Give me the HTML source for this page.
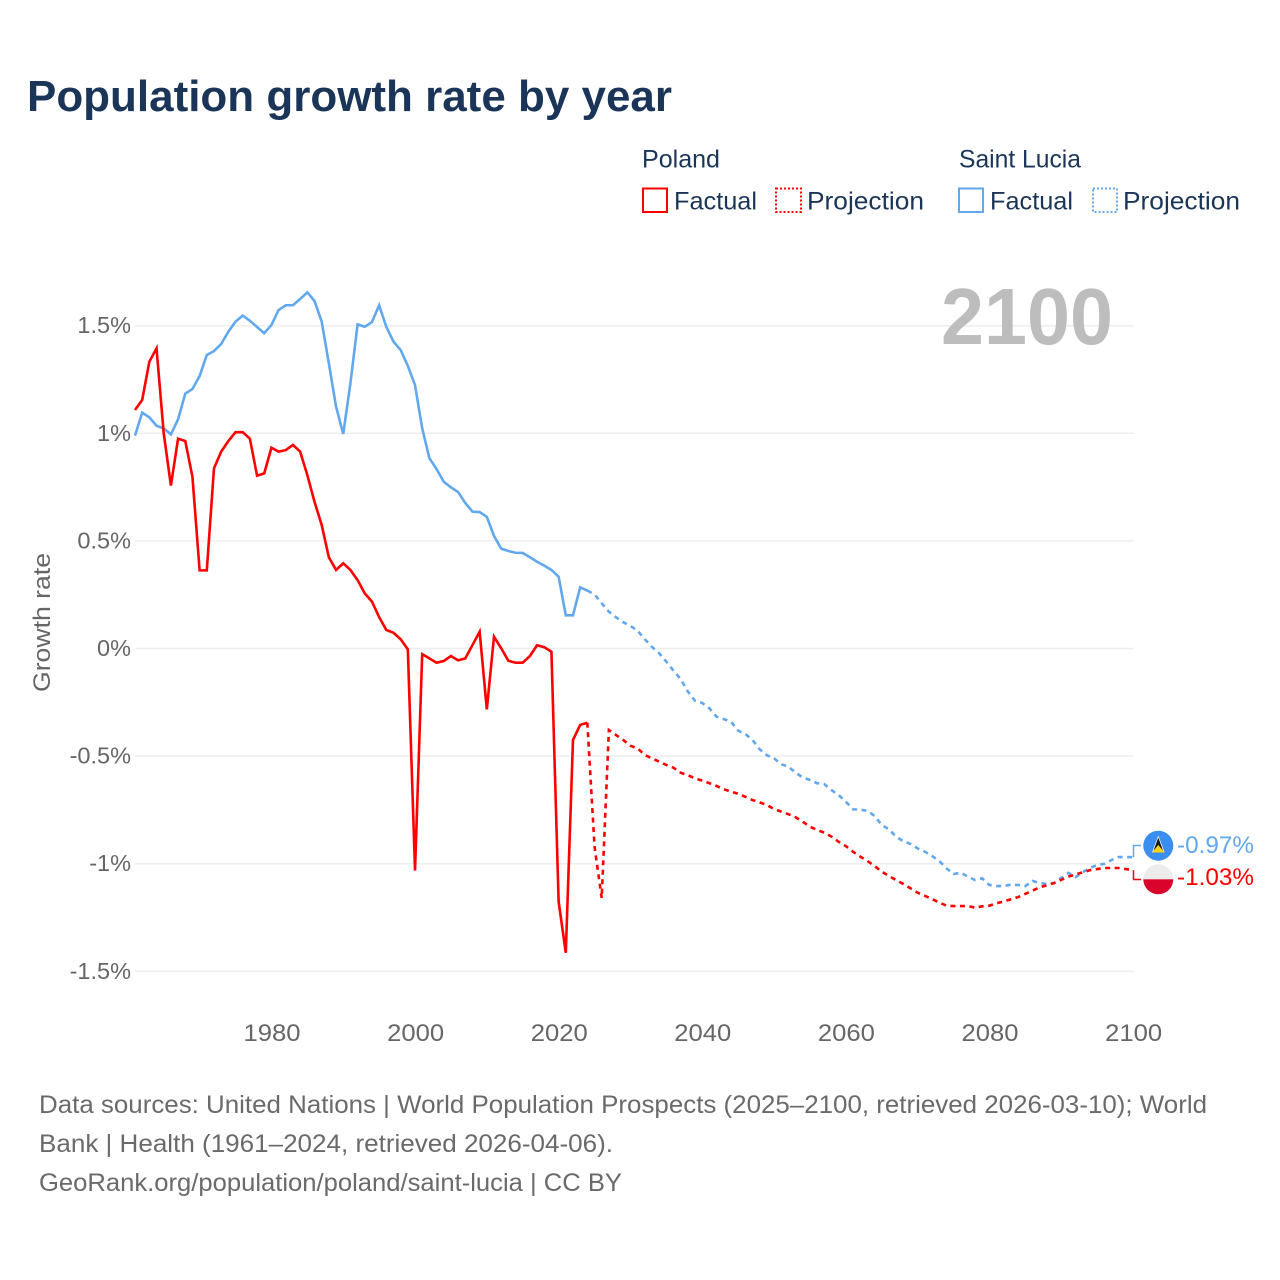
<!DOCTYPE html>
<html lang="en">
<head>
<meta charset="utf-8">
<title>Population growth rate by year</title>
<style>
html,body{margin:0;padding:0;background:#fff;}
svg{display:block;font-family:"Liberation Sans",sans-serif;}
</style>
</head>
<body>
<svg id="chart" width="1280" height="1280" viewBox="0 0 1280 1280" xmlns="http://www.w3.org/2000/svg">
  <rect width="1280" height="1280" fill="#fff"/>
  <text x="27" y="111" font-size="44" font-weight="700" fill="#1a3557" textLength="645" lengthAdjust="spacingAndGlyphs">Population growth rate by year</text>

  <g font-size="25" fill="#1a3557">
    <text x="642" y="167.5" textLength="78" lengthAdjust="spacingAndGlyphs">Poland</text>
    <rect x="643" y="188.5" width="24" height="23.5" fill="none" stroke="#ff0000" stroke-width="2"/>
    <text x="674" y="209.5" textLength="83" lengthAdjust="spacingAndGlyphs">Factual</text>
    <rect x="776" y="188.5" width="25" height="23.5" fill="none" stroke="#ff0000" stroke-width="2" stroke-dasharray="2 2"/>
    <text x="807" y="209.5" textLength="117" lengthAdjust="spacingAndGlyphs">Projection</text>
    <text x="959" y="167.5" textLength="122" lengthAdjust="spacingAndGlyphs">Saint Lucia</text>
    <rect x="959" y="188.5" width="24" height="23.5" fill="none" stroke="#62a8ee" stroke-width="2"/>
    <text x="990" y="209.5" textLength="83" lengthAdjust="spacingAndGlyphs">Factual</text>
    <rect x="1093" y="188.5" width="24" height="23.5" fill="none" stroke="#62a8ee" stroke-width="2" stroke-dasharray="2 2"/>
    <text x="1123" y="209.5" textLength="117" lengthAdjust="spacingAndGlyphs">Projection</text>
  </g>

  <g id="grid"></g>
  <g id="yticks" font-size="23.5" fill="#666" text-anchor="end"></g>
  <g id="xticks" font-size="24" fill="#666" text-anchor="middle"></g>
  <text transform="translate(50,622.5) rotate(-90)" text-anchor="middle" font-size="24" fill="#666" textLength="139" lengthAdjust="spacingAndGlyphs">Growth rate</text>

  <text x="941" y="344" font-size="80" font-weight="700" fill="#bdbdbd" textLength="172" lengthAdjust="spacingAndGlyphs">2100</text>

  <g id="series"></g>

  <g>
    <polyline id="conn-lucia" fill="none" stroke="#62a8ee" stroke-width="1.5"/>
    <polyline id="conn-poland" fill="none" stroke="#ff0000" stroke-width="1.5"/>
    <g>
      <circle cx="1158.3" cy="845.7" r="15" fill="#3a8eef"/>
      <polygon points="1158.3,835.5 1164.6,852.5 1152,852.5" fill="#fff"/>
      <polygon points="1158.3,837.5 1163.2,851 1153.4,851" fill="#1a1a1a"/>
      <polygon points="1158.3,845 1164.6,852.5 1152,852.5" fill="#fcd116"/>
    </g>
    <g>
      <clipPath id="pl-clip"><circle cx="1158.3" cy="879.3" r="15"/></clipPath>
      <g clip-path="url(#pl-clip)">
        <rect x="1143" y="864" width="31" height="15.3" fill="#ececec"/>
        <rect x="1143" y="879.3" width="31" height="16" fill="#d9042b"/>
      </g>
    </g>
    <text id="label-lucia" x="1177" y="853" font-size="24.5" fill="#62a8ee" textLength="77" lengthAdjust="spacingAndGlyphs"></text>
    <text id="label-poland" x="1177" y="885" font-size="24.5" fill="#ff0000" textLength="77" lengthAdjust="spacingAndGlyphs"></text>
  </g>

  <g font-size="25" fill="#6a6a6a">
    <text x="39" y="1113" textLength="1168" lengthAdjust="spacingAndGlyphs">Data sources: United Nations | World Population Prospects (2025–2100, retrieved 2026-03-10); World</text>
    <text x="39" y="1152" textLength="574" lengthAdjust="spacingAndGlyphs">Bank | Health (1961–2024, retrieved 2026-04-06).</text>
    <text x="39" y="1191" textLength="583" lengthAdjust="spacingAndGlyphs">GeoRank.org/population/poland/saint-lucia | CC BY</text>
  </g>
</svg>
<script>
var factualStartYear = 1961;
var projectionStartYear = 2024;
var xTickYears = [1980, 2000, 2020, 2040, 2060, 2080, 2100];
var yTickValues = [1.5, 1, 0.5, 0, -0.5, -1, -1.5];
var yTickLabels = ["1.5%", "1%", "0.5%", "0%", "-0.5%", "-1%", "-1.5%"];
var polandEndLabel = "-1.03%";
var luciaEndLabel = "-0.97%";

var polandFactual = [
1.108,1.155,1.333,1.395,1.0,0.757,0.975,0.964,0.798,0.363,
0.363,0.837,0.915,0.964,1.005,1.005,0.975,0.803,0.814,0.933,
0.915,0.922,0.946,0.915,0.806,0.682,0.574,0.424,0.365,0.396,
0.365,0.318,0.256,0.218,0.146,0.086,0.073,0.043,-0.004,-1.032,
-0.026,-0.046,-0.066,-0.058,-0.035,-0.055,-0.046,0.016,0.078,-0.283,
0.055,0.001,-0.057,-0.066,-0.066,-0.035,0.015,0.006,-0.015,-1.176,
-1.414,-0.425,-0.355,-0.345];

var polandProjection = [
-0.345,-0.92,-1.16,-0.379,-0.402,-0.425,-0.452,-0.464,-0.495,-0.51,
-0.526,-0.541,-0.554,-0.577,-0.589,-0.603,-0.614,-0.626,-0.639,-0.654,
-0.665,-0.675,-0.689,-0.704,-0.715,-0.727,-0.746,-0.758,-0.77,-0.784,
-0.805,-0.828,-0.843,-0.856,-0.874,-0.898,-0.918,-0.944,-0.967,-0.987,
-1.011,-1.037,-1.057,-1.076,-1.094,-1.114,-1.135,-1.149,-1.164,-1.18,
-1.195,-1.197,-1.197,-1.197,-1.204,-1.198,-1.195,-1.184,-1.175,-1.165,
-1.155,-1.14,-1.125,-1.11,-1.1,-1.09,-1.075,-1.06,-1.05,-1.04,
-1.03,-1.025,-1.02,-1.02,-1.02,-1.025,-1.03];

var luciaFactual = [
0.989,1.096,1.074,1.035,1.023,0.995,1.065,1.184,1.206,1.266,
1.364,1.382,1.415,1.472,1.519,1.547,1.523,1.494,1.465,1.503,
1.573,1.595,1.595,1.624,1.655,1.615,1.519,1.325,1.124,0.997,
1.232,1.506,1.495,1.517,1.595,1.495,1.426,1.387,1.313,1.224,
1.023,0.884,0.834,0.775,0.749,0.727,0.676,0.636,0.634,0.612,
0.523,0.464,0.453,0.445,0.444,0.424,0.403,0.385,0.365,0.334,
0.154,0.154,0.284,0.269];

var luciaProjection = [
0.269,0.252,0.21,0.171,0.145,0.122,0.105,0.083,0.043,0.008,
-0.022,-0.061,-0.103,-0.142,-0.2,-0.243,-0.253,-0.278,-0.317,-0.328,
-0.34,-0.382,-0.397,-0.425,-0.468,-0.496,-0.51,-0.538,-0.549,-0.577,
-0.599,-0.611,-0.626,-0.63,-0.658,-0.681,-0.712,-0.747,-0.749,-0.754,
-0.778,-0.82,-0.84,-0.874,-0.896,-0.908,-0.929,-0.944,-0.964,-0.987,
-1.021,-1.048,-1.042,-1.06,-1.076,-1.068,-1.099,-1.104,-1.104,-1.097,
-1.099,-1.104,-1.08,-1.09,-1.094,-1.09,-1.066,-1.043,-1.062,-1.039,
-1.02,-1.006,-1.001,-0.983,-0.969,-0.969,-0.97];

var NS = "http://www.w3.org/2000/svg";
function xScale(year) { return 135 + (year - 1961) * 7.18; }
function yScale(v) { return 648.5 - v * 215.2; }
function linePoints(values, startYear) {
  return values.map(function (v, i) {
    return xScale(startYear + i).toFixed(2) + "," + yScale(v).toFixed(2);
  }).join(" ");
}

var gridG = document.getElementById("grid");
var yG = document.getElementById("yticks");
yTickValues.forEach(function (v, i) {
  var line = document.createElementNS(NS, "line");
  
  
  line.setAttribute("x1", 135);
  line.setAttribute("x2", 1133.5);
  line.setAttribute("y1", yScale(v));
  line.setAttribute("y2", yScale(v));
  line.setAttribute("stroke", "#eeeeee");
  line.setAttribute("stroke-width", "1.5");
  gridG.appendChild(line);
  var t = document.createElementNS(NS, "text");
  
  
  t.setAttribute("x", 131);
  t.setAttribute("y", yScale(v) + 7.5);
  t.textContent = yTickLabels[i];
  yG.appendChild(t);
});

var xG = document.getElementById("xticks");
xTickYears.forEach(function (year) {
  var t = document.createElementNS(NS, "text");
  
  
  t.setAttribute("x", xScale(year) + 0.6);
  t.setAttribute("y", 1041);
  t.setAttribute("textLength", "57");
  t.setAttribute("lengthAdjust", "spacingAndGlyphs");
  t.textContent = String(year);
  xG.appendChild(t);
});

var seriesG = document.getElementById("series");
function addLine(values, startYear, color, dashed, name) {
  var p = document.createElementNS(NS, "polyline");
  
  
  p.setAttribute("points", linePoints(values, startYear));
  p.setAttribute("fill", "none");
  p.setAttribute("stroke", color);
  p.setAttribute("stroke-width", "2.6");
  p.setAttribute("stroke-linejoin", "miter");
  if (dashed) { p.setAttribute("stroke-dasharray", "5 4.5"); }
  seriesG.appendChild(p);
}
addLine(luciaFactual, factualStartYear, "#62a8ee", false, "saint-lucia-factual-line");
addLine(luciaProjection, projectionStartYear, "#62a8ee", true, "saint-lucia-projection-line");
addLine(polandFactual, factualStartYear, "#ff0000", false, "poland-factual-line");
addLine(polandProjection, projectionStartYear, "#ff0000", true, "poland-projection-line");

var luciaEndY = yScale(luciaProjection[luciaProjection.length - 1]);
var polandEndY = yScale(polandProjection[polandProjection.length - 1]);
document.getElementById("conn-lucia").setAttribute("points", "1133.5," + luciaEndY + " 1133.5,845.5 1141,845.5");
document.getElementById("conn-poland").setAttribute("points", "1133.5," + polandEndY + " 1133.5,879.5 1141,879.5");
document.getElementById("label-lucia").textContent = luciaEndLabel;
document.getElementById("label-poland").textContent = polandEndLabel;
</script>
</body>
</html>
